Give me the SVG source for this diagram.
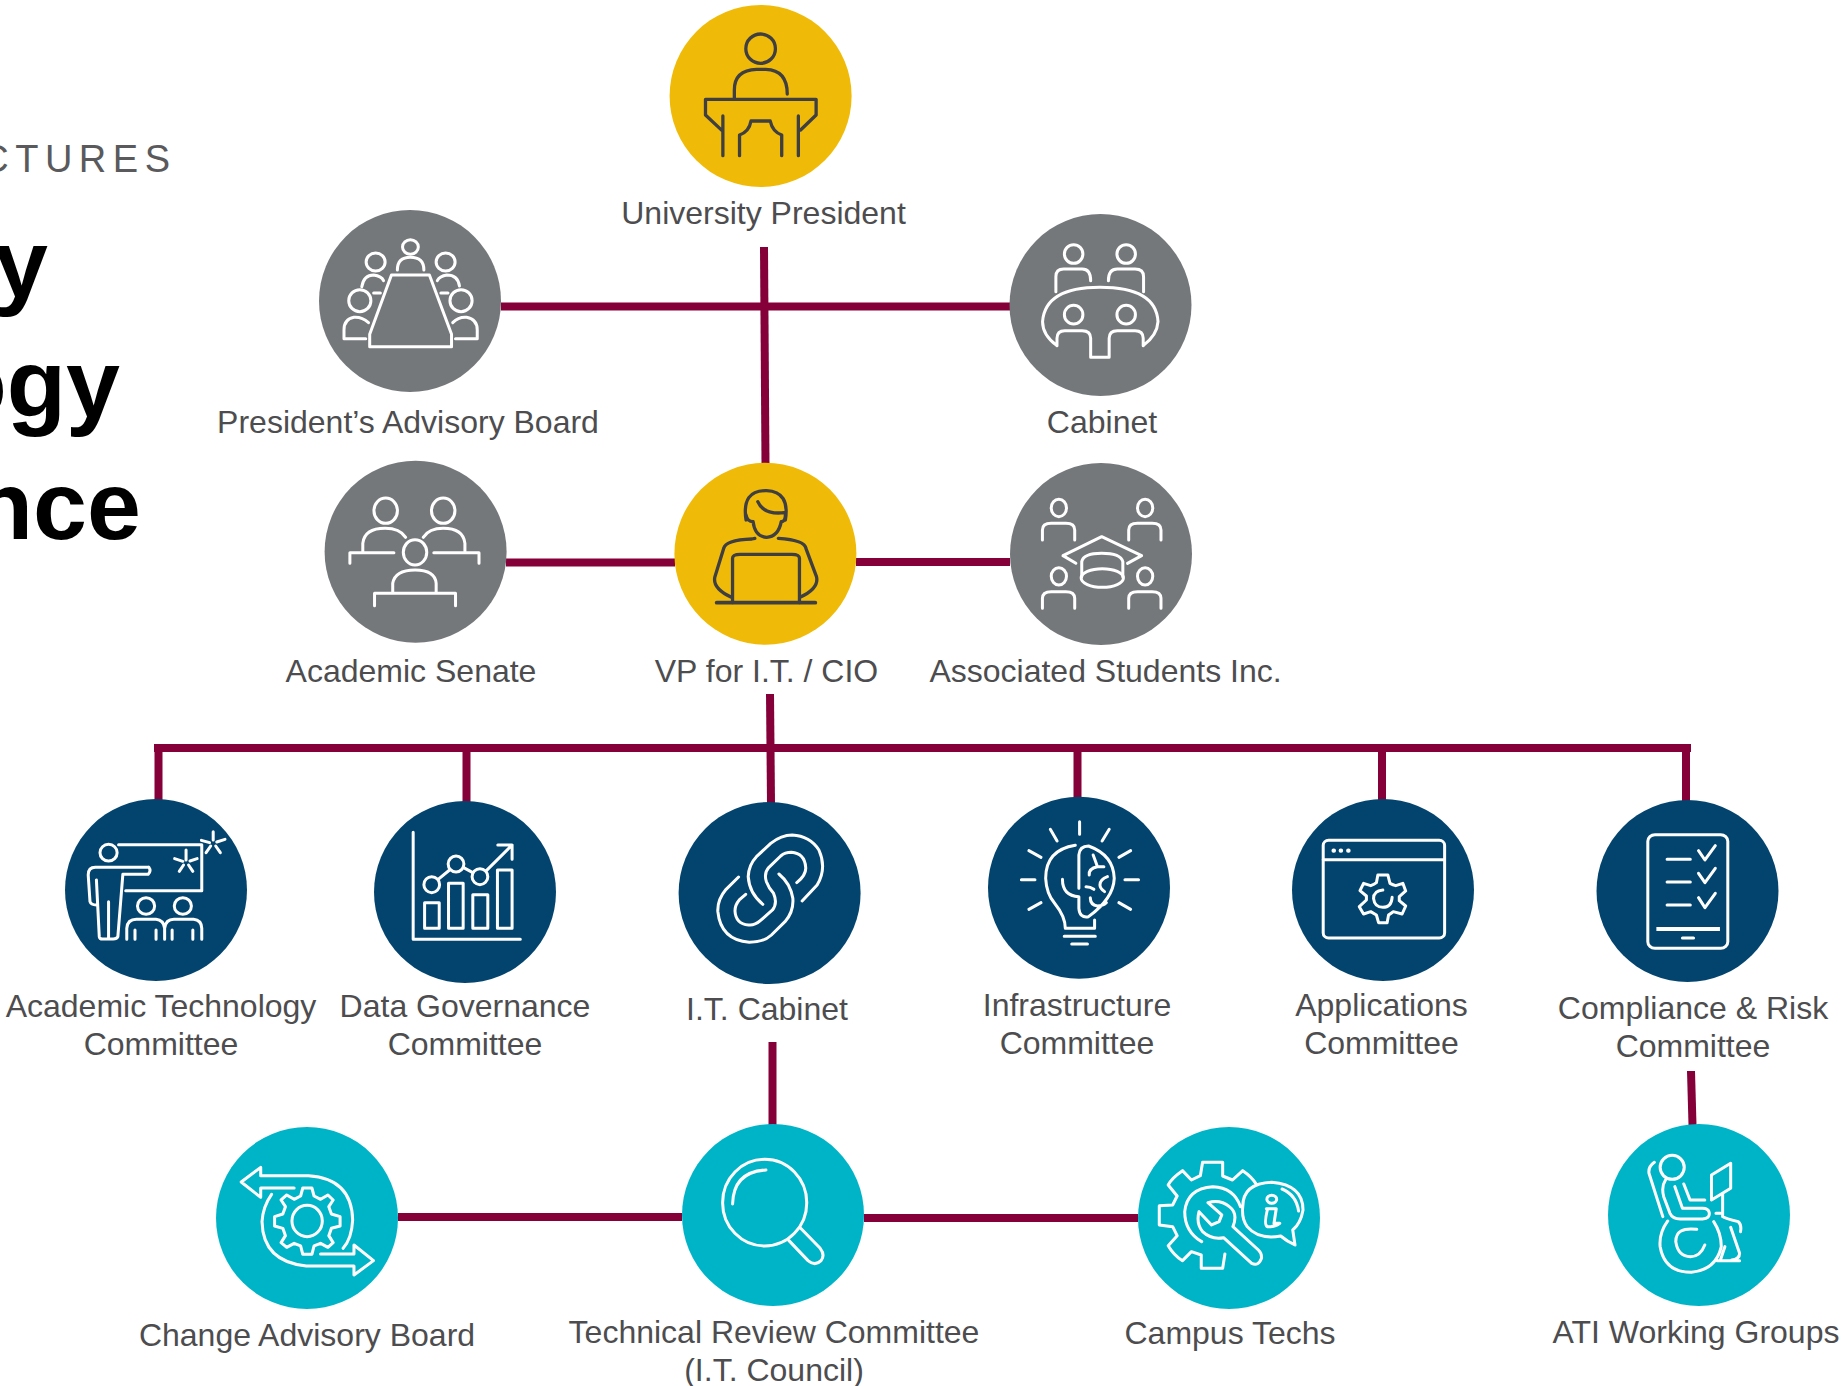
<svg xmlns="http://www.w3.org/2000/svg" width="1845" height="1386" viewBox="0 0 1845 1386">
<style>
text{font-family:"Liberation Sans",Arial,sans-serif}
.l{font-size:32px;fill:#4d4d4f;text-anchor:middle}
.t{font-size:97px;font-weight:bold;fill:#000;text-anchor:end}
.s{font-size:38px;fill:#5a5a5c;letter-spacing:6.500px;text-anchor:end}
.gold{fill:#f0bb08}.grey{fill:#75787b}.navy{fill:#03446f}.teal{fill:#00b4c8}
.i,.i *{fill:none;stroke:#fff;stroke-width:3;stroke-linecap:round;stroke-linejoin:round;vector-effect:non-scaling-stroke}
.d,.d *{stroke:#3f3f41;stroke-width:3.300}
.c{fill:none;stroke:#850038;stroke-width:8}
.i .b{stroke-width:4.200;stroke-linecap:butt}
</style>
<rect width="1845" height="1386" fill="#fff"/>
<text class="s" x="176.500" y="172">CTURES</text>
<text class="t" x="48" y="297">y</text>
<text class="t" x="120" y="417">ogy</text>
<text class="t" x="141" y="538.500">nce</text>
<g id="connectors" class="c">
<path d="M764 247L765.500 464"/>
<path d="M501 306.500H1010"/>
<path d="M506 562.500H675"/>
<path d="M856 562H1010"/>
<path d="M770 694L771 803"/>
<path d="M154 748H1691"/>
<path d="M158.500 748V800M466.500 748V802M1077.500 748V798M1382 748V800M1686 748V801"/>
<path d="M772.500 1042V1125"/>
<path d="M1691 1071L1692.500 1125"/>
<path d="M398 1217H682"/>
<path d="M864 1218H1138"/>
</g>
<g id="n-president"><circle class="gold" cx="760.600" cy="96" r="91"/>
<g class="i d" transform="translate(640 0) scale(.37 .3333)"><ellipse cx="326" cy="146" rx="40" ry="44"/><path d="M255 297V270Q255 210 315 208H340Q398 210 398 282M177 298H476V345L434 390M177 298V345L222 392M224 348V467M428 348V467M269 467V405Q295 395 300 363H352Q358 395 383 405V467"/></g>
<text class="l" x="763.500" y="224">University President</text></g>
<g id="n-advisory"><circle class="grey" cx="410" cy="301" r="91"/>
<g class="i" transform="scale(.3954 .3333)"><path d="M935 1040H1142V1003L1086 825H990L935 1003ZM1005 810Q1005 772 1038 772Q1072 772 1072 810M915 860Q920 825 945 825Q965 828 970 842M945 879H962M1162 858Q1158 825 1130 825Q1112 828 1106 842M1115 879H1133M932 968Q915 950 895 952Q870 958 870 990V1016H925M1145 968Q1160 950 1180 952Q1207 958 1207 990V1016H1152"/><ellipse cx="1038" cy="741" rx="20" ry="22"/><ellipse cx="950" cy="786" rx="24" ry="27"/><ellipse cx="1127" cy="786" rx="24" ry="27"/><ellipse cx="910" cy="902" rx="28" ry="33"/><ellipse cx="1166" cy="902" rx="28" ry="33"/></g>
<text class="l" x="408" y="432.500">President’s Advisory Board</text></g>
<g id="n-cabinet"><circle class="grey" cx="1100.500" cy="305" r="91"/>
<g class="i" transform="translate(640 0) scale(.37 .3333)"><ellipse cx="1172" cy="762" rx="25" ry="28"/><ellipse cx="1314" cy="762" rx="25" ry="28"/><ellipse cx="1172" cy="944" rx="25" ry="28"/><ellipse cx="1314" cy="944" rx="25" ry="28"/><path d="M1124 875V830Q1124 807 1145 807H1195Q1218 807 1218 842M1266 842Q1266 807 1290 807H1338Q1361 807 1361 830V875M1127 1037Q1088 1005 1088 965Q1095 862 1243 862Q1395 862 1400 965Q1398 1005 1360 1037M1127 1037V1015Q1127 992 1148 992H1195Q1218 992 1218 1015V1072H1268V1015Q1268 992 1290 992H1338Q1360 992 1360 1015V1037"/></g>
<text class="l" x="1102" y="432.500">Cabinet</text></g>
<g id="n-senate"><circle class="grey" cx="415.600" cy="551.700" r="91"/>
<g class="i" transform="translate(300 440) scale(.5869 .3333)"><ellipse cx="146" cy="212" rx="20" ry="38"/><ellipse cx="244" cy="212" rx="20" ry="38"/><ellipse cx="196" cy="337" rx="20" ry="38"/><path d="M107 338V310Q110 265 145 265Q170 265 180 292M210 292Q220 265 244 265Q278 265 281 310V338M85 370V338H160M228 338H305V370M158 460V430Q162 390 196 390Q230 390 232 430V460M127 497V460H265V497"/></g>
<text class="l" x="411" y="682">Academic Senate</text></g>
<g id="n-vp"><circle class="gold" cx="765.400" cy="553.700" r="91"/>
<g class="i d" transform="translate(300 440) scale(.5869 .3333)"><path d="M772 245Q775 290 795 292Q815 290 820 245M760 240Q752 150 795 152Q835 155 827 240M780 185Q790 225 825 218M760 225Q762 245 772 245M827 225Q827 245 820 245M775 295L770 297Q725 300 722 325L707 410Q702 445 735 472M815 295Q860 300 862 325L880 410Q885 445 852 472M737 488V355Q737 343 750 343H838Q851 343 851 355V488"/><path d="M710 488H878" style="stroke-width:3.800"/></g>
<text class="l" x="766.500" y="682">VP for I.T. / CIO</text></g>
<g id="n-asi"><circle class="grey" cx="1101" cy="554" r="91"/>
<g class="i" transform="translate(300 440) scale(.5869 .3333)"><ellipse cx="1293" cy="204" rx="13" ry="26"/><ellipse cx="1440" cy="204" rx="13" ry="26"/><ellipse cx="1293" cy="409" rx="13" ry="26"/><ellipse cx="1440" cy="409" rx="13" ry="26"/><path d="M1265 300V270Q1265 250 1280 250H1305Q1320 250 1320 270V300M1412 300V270Q1412 250 1427 250H1452Q1467 250 1467 270V300M1265 505V475Q1265 455 1280 455H1305Q1320 455 1320 475V505M1412 505V475Q1412 455 1427 455H1452Q1467 455 1467 475V505M1322 370L1300 347L1366 290L1434 347L1410 370M1332 410V365Q1335 340 1366 340Q1398 340 1402 365V410"/><ellipse cx="1367" cy="414" rx="36" ry="28"/></g>
<text class="l" x="1105.500" y="682">Associated Students Inc.</text></g>
<g id="n-acadtech"><circle class="navy" cx="156" cy="890" r="91"/>
<g class="i" transform="translate(40 780) scale(.3571 .3333)"><ellipse cx="192" cy="218" rx="24" ry="25"/><ellipse cx="297" cy="378" rx="24" ry="25"/><ellipse cx="400" cy="378" rx="24" ry="25"/><path d="M220 194H453V332H240M305 262H155Q135 262 135 285L140 365Q143 375 158 375M305 262Q312 272 303 283H232L218 470Q215 477 205 477H175Q167 477 166 470L158 300M192 365V475M243 478V445Q245 418 270 418H325Q346 420 349 445V478M349 445Q352 418 375 418H430Q452 420 453 445V478M266 450V478M325 450V478M370 450V478M428 450V478M409 210V240M377 236L400 244M440 236L420 243M390 274L402 255M428 274L416 255M485 155V180M452 181L475 188M518 178L495 186M465 218L478 198M505 218L492 198"/></g>
<text class="l" x="161" y="1016.500">Academic Technology</text><text class="l" x="161" y="1055">Committee</text></g>
<g id="n-datagov"><circle class="navy" cx="465" cy="892" r="91"/>
<g class="i" transform="translate(40 780) scale(.3571 .3333)"><path d="M1045 157V478H1345M1077 368H1118V445H1077ZM1144 310H1185V445H1144ZM1212 344H1254V445H1212ZM1281 270H1322V445H1281ZM1115 298L1147 270M1185 262L1212 278M1250 272L1322 195M1282 195H1322V238"/><ellipse cx="1097" cy="314" rx="22" ry="24"/><ellipse cx="1165" cy="252" rx="22" ry="24"/><ellipse cx="1232" cy="290" rx="22" ry="24"/></g>
<text class="l" x="465" y="1016.500">Data Governance</text><text class="l" x="465" y="1055">Committee</text></g>
<g id="n-itcabinet"><circle class="navy" cx="769.600" cy="893" r="91"/>
<g class="i" transform="translate(660 780) scale(.3571 .3333)"><path d="M288 373Q250 340 247 290Q248 255 270 230L310 190Q340 165 370 165Q420 168 445 210Q468 265 440 315L398 363M383 308Q410 285 408 262Q405 220 368 217Q350 217 338 228L305 262Q290 280 298 305Q305 325 318 340Q330 370 315 390L280 423Q265 437 248 435Q212 432 210 393Q210 375 222 360L240 343M220 291L185 328Q160 360 162 395Q170 480 250 487Q290 487 312 465L350 425Q375 395 372 355Q365 310 333 282"/></g>
<text class="l" x="767" y="1020">I.T. Cabinet</text></g>
<g id="n-infra"><circle class="navy" cx="1079" cy="887.700" r="91"/>
<g class="i" transform="translate(660 780) scale(.3571 .3333)"><path d="M1175 125V163M1093 148L1112 183M1258 148L1238 183M1033 212L1067 232M1318 212L1285 232M1012 299H1050M1302 299H1340M1033 388L1067 368M1318 388L1285 368M1163 196Q1080 210 1080 295Q1082 340 1105 370Q1135 410 1135 445H1217V420M1132 469H1219M1153 492H1197M1127 298Q1127 348 1173 350M1173 325V225Q1175 198 1200 198Q1270 225 1272 295Q1270 355 1200 410Q1175 415 1173 385V350M1213 225Q1220 245 1225 260Q1200 265 1202 285M1225 260H1243M1253 290Q1232 298 1232 315Q1232 325 1245 335M1193 320Q1205 320 1215 328M1205 353Q1205 375 1225 378Q1240 378 1250 368"/></g>
<text class="l" x="1077" y="1016">Infrastructure</text><text class="l" x="1077" y="1054">Committee</text></g>
<g id="n-apps"><circle class="navy" cx="1383" cy="890" r="91"/>
<g class="i" transform="translate(1270 780) scale(.3571 .3333)"><rect x="149" y="181" width="340" height="293" rx="15"/><path d="M149 239H489M302 285H330L336 310Q345 315 352 317L372 310L380 333L362 350V362L380 378L370 402L345 395Q338 400 332 405L328 428H304L298 405Q290 400 282 395L262 402L250 380L270 360V348L252 332L262 310L282 317Q292 313 298 308ZM316 330Q290 332 290 356Q293 382 316 382Q340 382 342 352"/><path class="b" style="stroke-linecap:round" d="M178 212H179M198 212H199M219 212H220"/></g>
<text class="l" x="1381.500" y="1016">Applications</text><text class="l" x="1381.500" y="1054">Committee</text></g>
<g id="n-compliance"><circle class="navy" cx="1687.500" cy="891" r="91"/>
<g class="i" transform="translate(1270 780) scale(.3571 .3333)"><rect x="1058" y="164" width="224" height="341" rx="20"/><path d="M1112 238H1177M1112 306H1177M1112 375H1177M1200 212L1218 240L1247 197M1200 280L1218 308L1247 265M1200 353L1218 383L1247 340M1155 474H1186"/><path class="b" d="M1082 447H1260"/></g>
<text class="l" x="1693" y="1019">Compliance &amp; Risk</text><text class="l" x="1693" y="1057">Committee</text></g>
<g id="n-change"><circle class="teal" cx="307" cy="1218" r="91"/>
<g class="i" transform="translate(200 1110) scale(.4337 .3333)"><path d="M217 234H140V262L95 216L140 172V197H250Q350 205 352 330Q350 385 330 415M278 432H355V405L400 452L355 495V468H245Q145 455 143 335Q145 290 165 253M237 234H258L263 258L278 268L295 255L307 270L297 290L303 312L323 320V348L303 355L297 377L307 398L295 412L278 400L263 408L258 433H237L232 408L217 400L200 412L187 398L197 377L191 355L172 348V320L191 312L197 290L187 270L200 255L217 268L232 258Z"/><ellipse cx="247" cy="333" rx="35" ry="47"/></g>
<text class="l" x="307" y="1346">Change Advisory Board</text></g>
<g id="n-trc"><circle class="teal" cx="773" cy="1215" r="91"/>
<g class="i" transform="translate(200 1110) scale(.4337 .3333)"><ellipse cx="1302" cy="278" rx="97" ry="130"/><path d="M1228 282Q1230 185 1305 180M1358 392L1402 452Q1418 470 1432 452Q1442 435 1430 415L1385 355"/></g>
<text class="l" x="774" y="1343">Technical Review Committee</text><text class="l" x="774" y="1381">(I.T. Council)</text></g>
<g id="n-campus"><circle class="teal" cx="1229" cy="1218" r="91"/>
<g class="i" transform="translate(1120 1110) scale(.4464 .3333)"><path d="M305 222Q295 200 275 182L252 210L230 198V157H185L180 197L160 210L140 182Q115 205 108 225L128 258L118 285L88 287V345L118 350L128 377L108 407Q120 435 140 452L160 425L182 435V475H230L235 432M183 395Q145 365 145 305Q150 235 208 230Q255 232 270 290M197 278L228 315L222 335L205 345L177 305Q170 340 185 365Q205 390 232 383L295 460Q310 470 317 445Q318 430 310 420L253 350Q265 310 245 290Q225 268 197 278ZM275 290Q275 220 340 217Q410 225 410 300Q405 340 387 360L392 405Q375 395 360 378Q310 390 285 350Q272 325 275 290ZM363 237Q395 255 400 303M328 296H350L345 340H358Q345 353 330 350Q322 345 330 300Z"/><ellipse cx="340" cy="268" rx="11" ry="12"/></g>
<text class="l" x="1230" y="1343.500">Campus Techs</text></g>
<g id="n-ati"><circle class="teal" cx="1699" cy="1215" r="91"/>
<g class="i" transform="translate(1120 1110) scale(.4464 .3333)"><ellipse cx="1237" cy="172" rx="27" ry="36"/><path d="M1197 157Q1183 170 1185 190L1216 320M1222 210Q1212 230 1218 260L1232 310Q1238 327 1255 327H1305Q1322 325 1320 308Q1318 295 1305 295H1260L1243 230M1263 222L1277 270H1310M1325 195L1368 160V235L1325 270ZM1350 250V320Q1355 325 1385 335Q1393 345 1390 365M1335 310H1345M1227 333Q1207 370 1210 410Q1220 487 1280 487Q1335 480 1347 410Q1347 370 1330 335M1292 358Q1245 350 1245 395Q1250 440 1278 440Q1300 440 1310 405M1368 352L1388 430Q1388 448 1370 450M1338 452H1388M1345 450L1355 410"/></g>
<text class="l" x="1696" y="1342.500">ATI Working Groups</text></g>
</svg>
